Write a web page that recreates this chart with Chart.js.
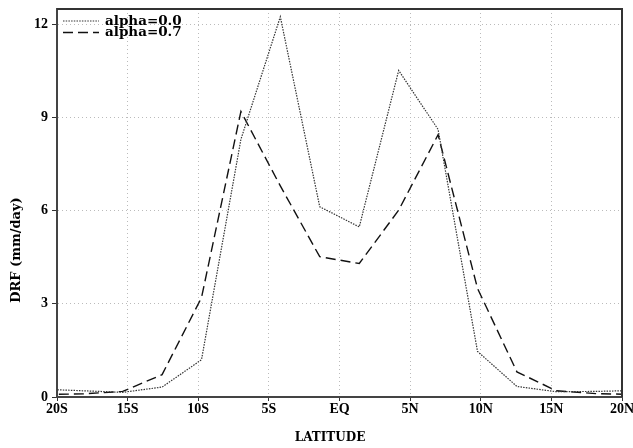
<!DOCTYPE html>
<html>
<head>
<meta charset="utf-8">
<script src="https://cdn.jsdelivr.net/npm/chart.js@4/dist/chart.umd.min.js"></script>
<style>
  body { margin: 0; background: #fff; }
  #wrap { width: 633px; height: 448px; }
</style>
</head>
<body>
<div id="wrap"><canvas id="line-chart"></canvas></div>
<script>
// gaussian grid latitudes (T42), values in mm/day
const lats = [-20.93, -18.14, -15.35, -12.56, -9.77, -6.98, -4.19, -1.40, 1.40, 4.19, 6.98, 9.77, 12.56, 15.35, 18.14, 20.93];
const alpha00 = [0.25, 0.2, 0.15, 0.32, 1.2, 8.3, 12.25, 6.13, 5.48, 10.52, 8.62, 1.47, 0.34, 0.17, 0.18, 0.21];
const alpha07 = [0.08, 0.1, 0.18, 0.72, 3.2, 9.2, 6.8, 4.52, 4.3, 6.02, 8.45, 3.5, 0.81, 0.2, 0.11, 0.08];
const seriesNames = ["alpha=0.0", "alpha=0.7"];

const xTickValues = [-20, -15, -10, -5, 0, 5, 10, 15, 20];
const xTickLabels = ["20S", "15S", "10S", "5S", "EQ", "5N", "10N", "15N", "20N"];
const yTickValues = [0, 3, 6, 9, 12];

const tickFont = { family: "'Liberation Serif'", weight: "bold", size: 14 };

// legend, axis titles and the box frame
const extras = {
  id: "extras",
  afterDraw(chart) {
    const ctx = chart.ctx;
    const a = chart.chartArea;
    ctx.save();
    ctx.strokeStyle = "#333";
    ctx.lineWidth = 2;
    ctx.beginPath();
    ctx.moveTo(a.left, a.top);
    ctx.lineTo(a.right, a.top);
    ctx.lineTo(a.right, a.bottom);
    ctx.stroke();

    chart.data.datasets.forEach((ds, i) => {
      const y = a.top + 12 + i * 11.5;
      ctx.strokeStyle = ds.borderColor;
      ctx.lineWidth = ds.borderWidth;
      ctx.setLineDash(ds.borderDash);
      ctx.beginPath();
      ctx.moveTo(a.left + 6, y);
      ctx.lineTo(a.left + 42, y);
      ctx.stroke();
      ctx.setLineDash([]);
      ctx.fillStyle = "#000";
      ctx.font = "bold 13.5px 'DejaVu Serif'";
      ctx.textBaseline = "middle";
      ctx.textAlign = "left";
      ctx.fillText(ds.label, a.left + 48, y);
    });

    ctx.fillStyle = "#000";
    ctx.textAlign = "center";
    ctx.textBaseline = "middle";
    ctx.font = "bold 12px 'DejaVu Serif'";
    ctx.fillText("LATITUDE", 330, 438);

    ctx.translate(17, 250);
    ctx.rotate(-Math.PI / 2);
    ctx.font = "bold 13px 'DejaVu Serif'";
    ctx.fillText("DRF (mm/day)", 0, 0);
    ctx.restore();
  }
};

let chart = new Chart(document.getElementById("line-chart"), {
  type: "line",
  data: {
    datasets: [
      {
        label: seriesNames[0],
        data: lats.map((x, i) => ({ x: x, y: alpha00[i] })),
        borderColor: "#333",
        borderWidth: 1.2,
        borderDash: [1.5, 1.2],
        pointRadius: 0,
        fill: false,
        tension: 0
      },
      {
        label: seriesNames[1],
        data: lats.map((x, i) => ({ x: x, y: alpha07[i] })),
        borderColor: "#111",
        borderWidth: 1.4,
        borderDash: [10, 5],
        pointRadius: 0,
        fill: false,
        tension: 0
      }
    ]
  },
  options: {
    responsive: true,
    maintainAspectRatio: false,
    animation: false,
    layout: { padding: { left: 0, right: 11, top: 9, bottom: 0 } },
    plugins: {
      legend: { display: false },
      tooltip: { enabled: false }
    },
    scales: {
      x: {
        type: "linear",
        min: -20,
        max: 20,
        afterBuildTicks: s => { s.ticks = xTickValues.map(v => ({ value: v })); },
        afterFit: s => { s.height = 51; s.paddingLeft = 0; s.paddingRight = 0; },
        ticks: {
          color: "#000",
          font: tickFont,
          padding: 0,
          maxRotation: 0,
          callback: (v, i) => xTickLabels[i]
        },
        grid: {
          color: "#bbb",
          lineWidth: 1,
          tickColor: "#333",
          tickLength: 4,
          tickBorderDash: [],
          tickWidth: 1
        },
        border: { color: "#444", width: 2, dash: [1, 3] }
      },
      y: {
        min: 0,
        max: 12.5,
        afterBuildTicks: s => { s.ticks = yTickValues.map(v => ({ value: v })); },
        afterFit: s => { s.width = 57; s.paddingTop = 0; s.paddingBottom = 0; },
        ticks: {
          color: "#000",
          font: tickFont,
          padding: 4
        },
        grid: {
          color: "#bbb",
          lineWidth: 1,
          tickColor: "#333",
          tickLength: 5,
          tickBorderDash: [],
          tickWidth: 1
        },
        border: { color: "#444", width: 2, dash: [1, 3] }
      }
    }
  },
  plugins: [extras]
});
</script>
</body>
</html>
